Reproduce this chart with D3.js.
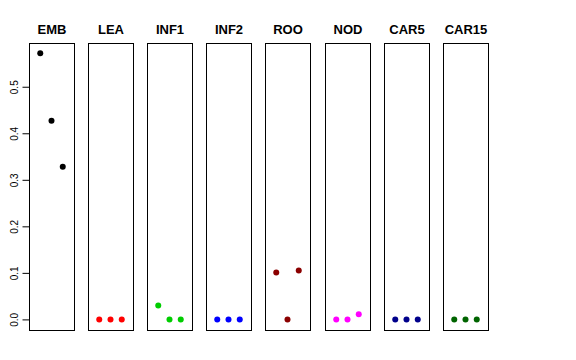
<!DOCTYPE html>
<html>
<head>
<meta charset="utf-8">
<script src="https://cdn.jsdelivr.net/npm/d3@7"></script>
<style>
body { margin: 0; background: white; }
svg { font-family: "Liberation Sans", Arial, sans-serif; }
</style>
</head>
<body>
<svg id="chart" width="576" height="360"></svg>
<script>
// panels, one per tissue
const panels = ['EMB', 'LEA', 'INF1', 'INF2', 'ROO', 'NOD', 'CAR5', 'CAR15'];
const colors = ['#000000', '#FF0000', '#00CD00', '#0000FF', '#8B0000', '#FF00FF', '#00008B', '#006400'];

// three values per panel
const values = [
    [0.572, 0.427, 0.328],
    [0, 0, 0],
    [0.030, 0, 0],
    [0, 0, 0],
    [0.101, 0, 0.105],
    [0, 0, 0.011],
    [0, 0, 0],
    [0, 0, 0]
];
const yTicks = [0.0, 0.1, 0.2, 0.3, 0.4, 0.5];

const svg = d3.select('#chart');

const plotLeft = 29, plotTop = 43, plotBottom = 330;
const panelw = 45, stride = 59.1;

let y = d3.scaleLinear().domain([-0.0228, 0.594]).range([plotBottom, plotTop]);

panels.forEach((name, p)=>{
    let x0 = Math.round(plotLeft + stride * p);
    let x = d3.scaleLinear().domain([0, 4]).range([x0, x0 + panelw]);
    let g = svg.append('g');

    g.append('rect')
        .attr('x', x0 + 0.5)
        .attr('y', plotTop + 0.5)
        .attr('width', panelw)
        .attr('height', plotBottom - plotTop)
        .attr('fill', 'none')
        .attr('stroke', '#000');

    g.append('text')
        .text(name)
        .attr('x', x0 + panelw / 2 + 0.5)
        .attr('y', 34)
        .attr('text-anchor', 'middle')
        .style('font-weight', 'bold')
        .style('font-size', '13px');

    g.selectAll('circle')
        .data(values[p])
        .enter()
        .append('circle')
        .attr('cx', (d, i)=>x(i + 1))
        .attr('cy', d=>y(d))
        .attr('r', 3)
        .attr('fill', colors[p]);
});

// y axis on the first panel only
let axis = svg.append('g')
    .attr('transform', 'translate(' + (plotLeft + 0.5) + ',0)')
    .call(d3.axisLeft(y).tickValues(yTicks).tickFormat(d3.format('.1f')).tickSize(7).tickSizeOuter(0));
axis.select('.domain').attr('d', 'M0,' + y(0) + 'V' + y(0.5));
axis.selectAll('.tick text')
    .attr('x', null)
    .attr('dy', null)
    .attr('transform', 'translate(-15,0) rotate(-90)')
    .attr('text-anchor', 'middle')
    .attr('dominant-baseline', 'central')
    .style('font-size', '10px')
    .style('font-family', '"Liberation Sans", Arial, sans-serif');
</script>
</body>
</html>
